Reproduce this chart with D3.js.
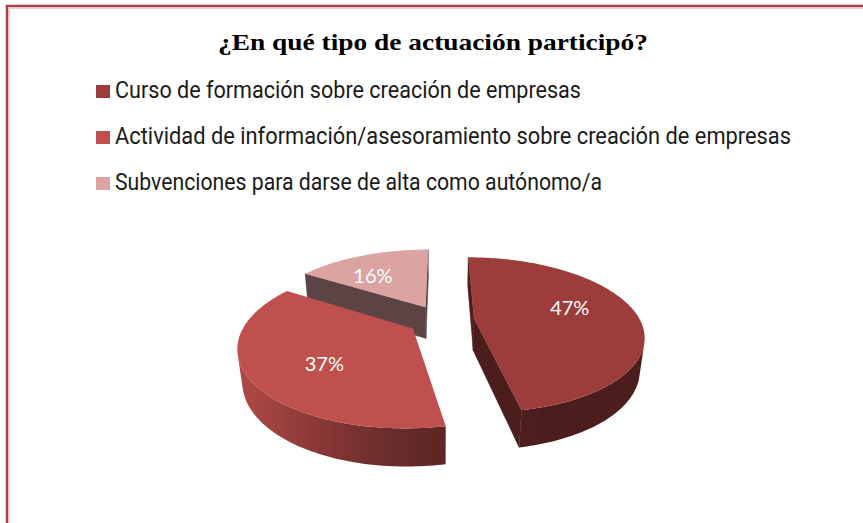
<!DOCTYPE html>
<html>
<head>
<meta charset="utf-8">
<script src="https://cdn.jsdelivr.net/npm/d3@7"></script>
<style>
  body { margin: 0; background: #fff; }
  svg { display: block; }
</style>
</head>
<body>
<div id="chart"></div>
<script>
// data
var title = "¿En qué tipo de actuación participó?";
var categories = [
  "Curso de formación sobre creación de empresas",
  "Actividad de información/asesoramiento sobre creación de empresas",
  "Subvenciones para darse de alta como autónomo/a"
];
var values = [47, 37, 16];
var labels = ["47%", "37%", "16%"];

// styles
var colors = ["#9c3c3b", "#c0504d", "#dba3a2"];
var wallDark = [0.48, 0.45, 0.42];

var svgWidth = 863;
var svgHeight = 523;

var svg = d3.select("#chart")
  .append("svg")
  .attr("width", svgWidth)
  .attr("height", svgHeight);
var defs = svg.append("defs");

// frame (only top and left edges are inside the picture)
svg.append("rect")
  .attr("x", 7).attr("y", 6)
  .attr("width", 900).attr("height", 600)
  .attr("fill", "none")
  .attr("stroke", "#a8403f")
  .attr("stroke-width", 2.5);
svg.append("rect")
  .attr("x", 9.2).attr("y", 8.2)
  .attr("width", 900).attr("height", 600)
  .attr("fill", "none")
  .attr("stroke", "#e8b8b6")
  .attr("stroke-width", 1);

// title
svg.append("text")
  .attr("x", 433)
  .attr("y", 50)
  .attr("text-anchor", "middle")
  .style("font-family", "'Liberation Serif', 'DejaVu Serif', serif")
  .style("font-weight", "bold")
  .style("font-size", "24px")
  .attr("textLength", 430)
  .attr("lengthAdjust", "spacingAndGlyphs")
  .text(title);

// legend
var legendLen = [466, 676, 487];
var legend = svg.append("g");
categories.forEach(function(c, i) {
  var y = 98 + i * 46;
  legend.append("rect")
    .attr("x", 96).attr("y", y - 13)
    .attr("width", 14).attr("height", 13)
    .attr("fill", colors[i]);
  legend.append("text")
    .attr("x", 115)
    .attr("y", y)
    .style("font-family", "Roboto, 'Liberation Sans', sans-serif")
    .style("font-size", "23px")
    .style("fill", "#1a1a1a")
    .attr("textLength", legendLen[i])
    .attr("lengthAdjust", "spacingAndGlyphs")
    .text(c);
});

// 3D pie with a perspective camera
var A = 166;          // px per radius at the centre depth
var k = 0.21;         // perspective strength
var sPhi = 0.45, cPhi = Math.sqrt(1 - sPhi * sPhi);
var Dd = cPhi / k;
var f = A * Dd;
var cx = 441, cy = 320;
var explode = 0.2, depthH = 0.22;
var cam = [0, Dd * sPhi, Dd * cPhi];

function project(p) {
  var depth = Dd - p[1] * sPhi - p[2] * cPhi;
  return [cx + f * p[0] / depth, cy - f * (p[1] * cPhi - p[2] * sPhi) / depth];
}

var pie = d3.pie().sort(null).startAngle(0).endAngle(2 * Math.PI);
var arcs = pie(values);

var line = d3.line();
var pieG = svg.append("g");

function facing(n, p) {
  return n[0] * (cam[0] - p[0]) + n[1] * (cam[1] - p[1]) + n[2] * (cam[2] - p[2]) > 0;
}

var slices = arcs.map(function(a, i) {
  var m = (a.startAngle + a.endAngle) / 2;
  var o = [explode * Math.sin(m), 0, -explode * Math.cos(m)];
  return { a: a, i: i, m: m, o: o, z: o[2] };
});
// paint far slices first
slices.sort(function(p, q) { return p.z - q.z; });

slices.forEach(function(s) {
  var a0 = s.a.startAngle, a1 = s.a.endAngle, o = s.o;
  var base = d3.rgb(colors[s.i]);
  function rim(t, y) { return [o[0] + Math.sin(t), y, o[2] - Math.cos(t)]; }
  var apexT = [o[0], 0, o[2]], apexB = [o[0], -depthH, o[2]];
  var n = Math.max(8, Math.ceil((a1 - a0) / 0.02));
  var ts = d3.range(n + 1).map(function(j) { return a0 + (a1 - a0) * j / n; });
  var g = pieG.append("g");

  function shade(fct) {
    return d3.rgb(base.r * fct, base.g * fct, base.b * fct).toString();
  }
  function face(pts, fill) {
    g.append("path")
      .attr("d", line(pts.map(project)) + "Z")
      .attr("fill", fill)
      .attr("stroke", fill)
      .attr("stroke-width", 0.5)
      .attr("stroke-linejoin", "round");
  }

  // radial walls
  var nStart = [-Math.cos(a0), 0, -Math.sin(a0)];
  var nEnd = [Math.cos(a1), 0, Math.sin(a1)];
  if (facing(nStart, rim(a0, 0)))
    face([apexT, rim(a0, 0), rim(a0, -depthH), apexB], shade(wallDark[s.i]));
  if (facing(nEnd, rim(a1, 0)))
    face([apexT, rim(a1, 0), rim(a1, -depthH), apexB], shade(wallDark[s.i]));

  // outer wall: one shape, gradient from light (left) to dark (right)
  var L = [-0.9, 0, 0.43];
  var vis = ts.filter(function(t) {
    return facing([Math.sin(t), 0, -Math.cos(t)], rim(t, 0));
  });
  if (vis.length > 1) {
    var topPts = vis.map(function(t) { return project(rim(t, 0)); });
    var botPts = vis.map(function(t) { return project(rim(t, -depthH)); }).reverse();
    var xs = topPts.map(function(p) { return p[0]; });
    var x0 = d3.min(xs), x1 = d3.max(xs);
    var gid = "wall" + s.i;
    var grad = defs.append("linearGradient")
      .attr("id", gid)
      .attr("gradientUnits", "userSpaceOnUse")
      .attr("x1", x0).attr("x2", x1).attr("y1", 0).attr("y2", 0);
    var stops = vis.map(function(t, j) {
      var d = Math.max(0, Math.sin(t) * L[0] - Math.cos(t) * L[2]);
      var fct = wallDark[s.i] + (0.9 - wallDark[s.i]) * d * d;
      return { off: (xs[j] - x0) / (x1 - x0), c: shade(fct) };
    }).sort(function(p, q) { return p.off - q.off; });
    grad.selectAll("stop").data(stops).enter().append("stop")
      .attr("offset", function(d) { return d.off; })
      .attr("stop-color", function(d) { return d.c; });
    g.append("path")
      .attr("d", line(topPts.concat(botPts)) + "Z")
      .attr("fill", "url(#" + gid + ")");
  }

  // top face
  var top = [apexT].concat(ts.map(function(t) { return rim(t, 0); }));
  g.append("path")
    .attr("d", line(top.map(project)) + "Z")
    .attr("fill", colors[s.i]);

  // label
  var lm = s.m - 0.14;
  var lp = project([o[0] + 0.62 * Math.sin(lm), 0, o[2] - 0.62 * Math.cos(lm)]);
  g.append("text")
    .attr("x", lp[0])
    .attr("y", lp[1])
    .attr("dy", "0.35em")
    .attr("text-anchor", "middle")
    .style("font-family", "Lato, 'Open Sans', sans-serif")
    .style("font-size", "20px")
    .style("fill", "#fff")
    .text(labels[s.i]);
});
</script>
</body>
</html>
